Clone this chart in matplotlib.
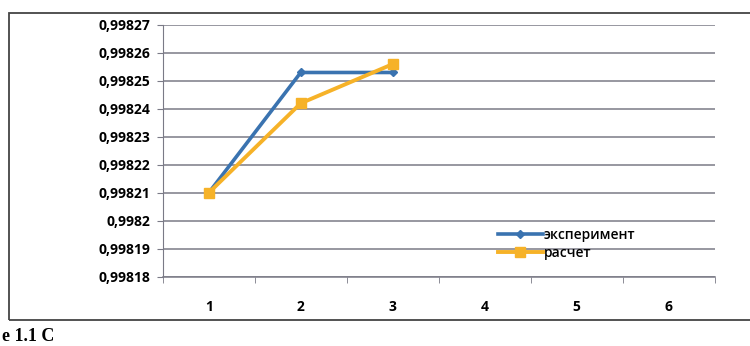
import matplotlib
matplotlib.use("Agg")
import matplotlib.pyplot as plt
from matplotlib.patches import Rectangle
from matplotlib.ticker import FixedLocator, FuncFormatter

# values
categories = [1, 2, 3, 4, 5, 6]
x_points = [1, 2, 3]
experiment = [0.99821, 0.998253, 0.998253]
calculation = [0.99821, 0.998242, 0.998256]
y_ticks = [0.99818, 0.99819, 0.9982, 0.99821, 0.99822, 0.99823,
           0.99824, 0.99825, 0.99826, 0.99827]
series_names = ["эксперимент", "расчет"]

BLUE = "#3a73b0"
ORANGE = "#f6b228"
GRID = "#7a7a86"

plt.rcParams["font.family"] = ["Open Sans", "DejaVu Sans"]

fig = plt.figure(figsize=(7.5, 3.46), dpi=100)
ax = fig.add_axes([0.217, 0.2, 0.736, 0.728])

ax.plot(x_points, experiment, color=BLUE, lw=2.6, marker="D", ms=4,
        label=series_names[0], zorder=3)
ax.plot(x_points, calculation, color=ORANGE, lw=2.8, marker="s", ms=7,
        label=series_names[1], zorder=4)

ax.set_xlim(0.5, 6.5)
ax.set_ylim(y_ticks[0], y_ticks[-1])
ax.yaxis.set_major_locator(FixedLocator(y_ticks))
ax.yaxis.set_major_formatter(FuncFormatter(lambda v, _: f"{v:.5f}".rstrip("0").replace(".", ",")))
ax.set_xticks(categories)
ax.set_xticklabels([str(c) for c in categories])
ax.set_xticks([c + 0.5 for c in [0] + categories], minor=True)
ax.tick_params(axis="x", which="major", length=0, pad=17, labelsize=10)
ax.tick_params(axis="x", which="minor", length=4, color=GRID)
ax.tick_params(axis="y", length=4, color=GRID, labelsize=10, pad=5)
for lbl in ax.get_yticklabels() + ax.get_xticklabels():
    lbl.set_fontweight("bold")

ax.grid(axis="y", color=GRID, lw=1.1)
for side in ["top", "right"]:
    ax.spines[side].set_visible(False)
ax.spines["left"].set_color(GRID)
ax.spines["bottom"].set_color(GRID)
ax.spines["bottom"].set_linewidth(1.1)

leg = ax.legend(loc="lower left", bbox_to_anchor=(0.59, 0.03), frameon=False,
                fontsize=10, handlelength=3.2, handletextpad=0.1, labelspacing=0.25,
                borderpad=0.2)
for t in leg.get_texts():
    t.set_fontweight("semibold")

# outer chart frame
fig.patches.append(Rectangle((0.012, 0.075), 0.99, 0.888, transform=fig.transFigure,
                             fill=False, edgecolor="#444444", lw=1.3))

# caption under the chart (only its beginning is visible in the scan)
fig.text(0.003, 0.004, "е 1.1 С", family=["Liberation Serif", "DejaVu Serif"],
         fontweight="bold", fontsize=13, va="bottom", ha="left")

fig.savefig("out.png", dpi=100)
